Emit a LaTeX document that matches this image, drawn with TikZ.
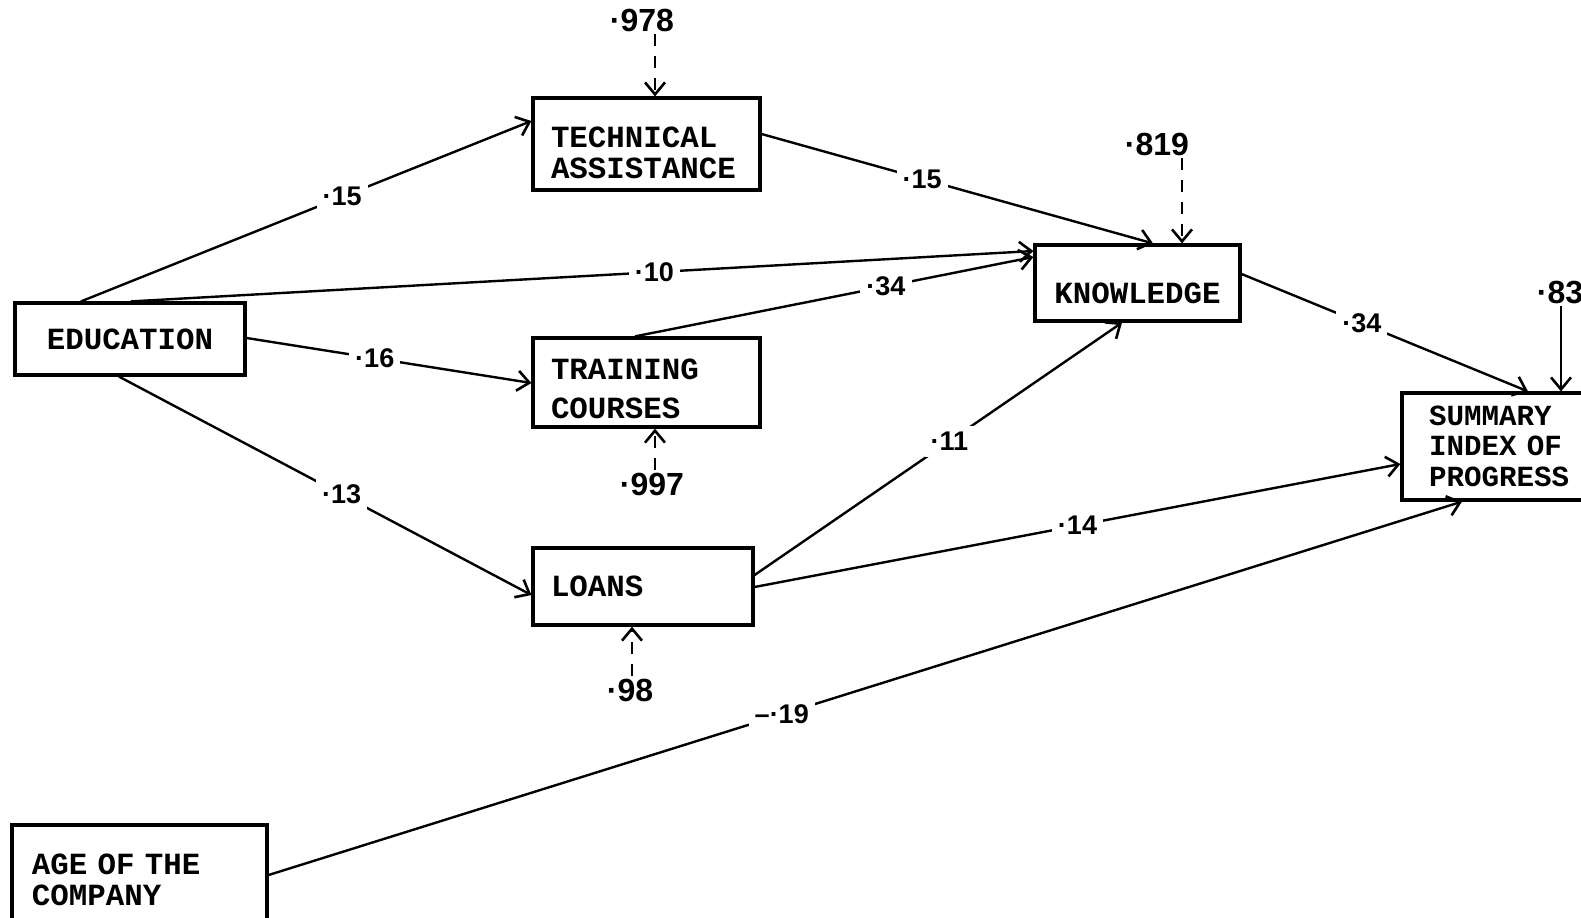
\documentclass[tikz,border=0pt]{standalone}
\usepackage{fontspec}
\setmainfont{Liberation Sans}
\newfontfamily\boxfont{Liberation Mono}
\usetikzlibrary{arrows.meta}

% invisible strut that lowers a box's first text line
\newcommand\toppad[1]{\rule{0pt}{#1}}

\tikzset{
  box/.style={draw, line width=1.6pt, rectangle, inner ysep=0pt,
    font=\boxfont\bfseries\fontsize{15.4}{15.5}\selectfont},
  lbox/.style={box, align=left, inner xsep=9pt},
  path/.style={line width=1.2pt, -{Straight Barb[length=6pt,width=10pt,line width=1.3pt]}},
  err/.style={path, dash pattern=on 6pt off 5pt},
  coef/.style={fill=white, inner sep=3pt, font=\bfseries\fontsize{13.5}{15}\selectfont},
  errlabel/.style={inner sep=1pt, font=\bfseries\fontsize{16}{18}\selectfont}
}

\begin{document}
\begin{tikzpicture}[x=0.5pt, y=-0.5pt]
  \useasboundingbox (0,0) rectangle (1581,917);

  % variables
  \node[box, minimum width=115pt, minimum height=36pt] (edu) at (130,339) {EDUCATION};
  \node[lbox, minimum width=113.5pt, minimum height=46pt, text width=95.5pt] (ta) at (646.5,144)
    {\toppad{19.6pt}TECHNICAL\\ASSISTANCE};
  \node[lbox, minimum width=113.5pt, minimum height=44.5pt, text width=95.5pt] (tr) at (646.5,382.5)
    {\toppad{16.6pt}TRAINING\\[4pt]COURSES};
  \node[lbox, minimum width=110pt, minimum height=38.5pt, text width=92pt] (lo) at (643,586.5) {LOANS};
  \node[box, minimum width=102.5pt, minimum height=38pt, text height=20.6pt] (kn) at (1137.5,283) {KNOWLEDGE};
  \node[lbox, inner xsep=13.5pt, minimum width=109pt, minimum height=53.5pt, text width=82pt] (su) at (1511,446.5)
    {\fontsize{14.6}{15}\selectfont SUMMARY\\INDEX OF\\PROGRESS};
  \node[lbox, inner xsep=10pt, minimum width=127.5pt, minimum height=55pt, text width=107.5pt] (age) at (139.5,880)
    {AGE OF THE\\COMPANY};

  % residual terms
  \node[errlabel] (eta) at (642,20) {·978};
  \node[errlabel] (ekn) at (1157,144) {·819};
  \node[errlabel] (esu) at (1560,292) {·83};
  \node[errlabel] (etr) at (652,484) {·997};
  \node[errlabel] (elo) at (630,690) {·98};

  \draw[err] (eta.south -| 655,0) -- (ta.north -| 655,0);
  \draw[err] (ekn.south -| 1182,0) -- (kn.north -| 1182,0);
  \draw[path] (esu.south -| 1561,0) -- (su.north -| 1561,0);
  \draw[err] (etr.north -| 655,0) -- (tr.south -| 655,0);
  \draw[err] (elo.north -| 632,0) -- (lo.south -| 632,0);

  % paths with coefficients
  \draw[path] (edu.north -| 81,0) -- node[coef, pos=.58] {·15} (ta.west |- 0,121);
  \draw[path] (ta.east |- 0,134) -- node[coef, pos=.41] {·15} (kn.north -| 1153,0);
  \draw[path] (edu.north -| 131,0) -- node[coef, pos=.58] {·10} (kn.west |- 0,251);
  \draw[path] (tr.north -| 635,0) -- node[coef, pos=.63] {·34} (kn.west |- 0,257);
  \draw[path] (edu.east |- 0,338) -- node[coef, pos=.45] {·16} (tr.west |- 0,383);
  \draw[path] (edu.south -| 119,0) -- node[coef, pos=.54] {·13} (lo.west |- 0,595);
  \draw[path] (lo.east |- 0,575) -- node[coef, pos=.53] {·11} (kn.south -| 1122,0);
  \draw[path] (lo.east |- 0,587) -- node[coef, pos=.5] {·14} (su.west |- 0,464);
  \draw[path] (kn.east |- 0,274) -- node[coef, pos=.42] {·34} (su.north -| 1528,0);
  \draw[path] (age.east |- 0,875) -- node[coef, pos=.43] {–·19} (su.south -| 1462,0);
\end{tikzpicture}
\end{document}
